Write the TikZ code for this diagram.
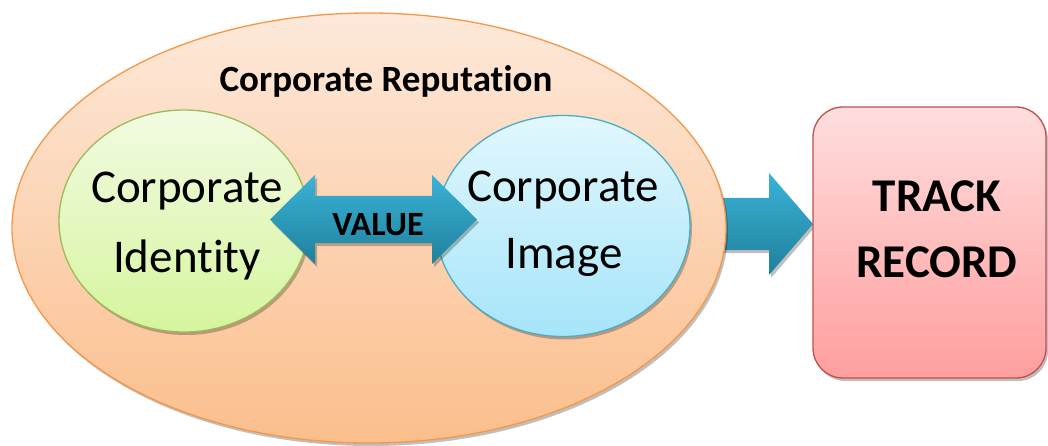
\documentclass[tikz,border=0pt]{standalone}
\usepackage{fontspec}
\setmainfont{Carlito}[Ligatures=NoCommon,RawFeature={-liga;-clig;-dlig}]
\usetikzlibrary{shapes.geometric,shadows}
\definecolor{repTop}{HTML}{FDE9DA}
\definecolor{repBot}{HTML}{FBBE8C}
\definecolor{repLine}{HTML}{F79646}
\definecolor{idTop}{HTML}{F2FBE2}
\definecolor{idBot}{HTML}{D6F59E}
\definecolor{idLine}{HTML}{9BBB59}
\definecolor{imTop}{HTML}{E2F7FD}
\definecolor{imBot}{HTML}{A6E5FA}
\definecolor{imLine}{HTML}{4BACC6}
\definecolor{arTop}{HTML}{3BB3D7}
\definecolor{arBot}{HTML}{1F809C}
\definecolor{trTop}{HTML}{FFDEDE}
\definecolor{trBot}{HTML}{FF9E9E}
\definecolor{trLine}{HTML}{C0504D}
\tikzset{
  softshadow/.style={drop shadow={shadow xshift=2pt,shadow yshift=-3pt,opacity=0.25,fill=black}},
  oval/.style={ellipse,draw,line width=1.3pt,inner sep=0pt,softshadow},
  blockarrow/.style={top color=arTop,bottom color=arBot,draw=none,softshadow},
  txt/.style={anchor=base,inner sep=0pt,text=black},
}
\begin{document}
\begin{tikzpicture}[x=1pt,y=1pt]
\useasboundingbox (0,0) rectangle (1048,-446);
% arrow from reputation to track record (behind the ellipse)
\coordinate (ra0) at (700,-224);
\coordinate (ratip) at (813,-224);
\path[blockarrow] (700,-198) -- (769,-198) -- (769,-173) -- (ratip) -- (769,-275) -- (769,-250) -- (700,-250) -- cycle;
% reputation ellipse
\node[oval,draw=repLine,top color=repTop,bottom color=repBot,minimum width=714,minimum height=430] (rep) at (369,-228) {};
\node[txt,font=\bfseries\fontsize{37}{44}\selectfont] (reptxt) at (386,-92) {Corporate Reputation};
% identity and image
\node[oval,draw=idLine,top color=idTop,bottom color=idBot,minimum width=250,minimum height=222] (ident) at (184,-221) {};
\node[oval,draw=imLine,top color=imTop,bottom color=imBot,minimum width=254,minimum height=221] (image) at (563,-226) {};
\node[txt,font=\fontsize{47}{56}\selectfont] (id1) at (187,-203) {Corporate};
\node[txt,font=\fontsize{47}{56}\selectfont] (id2) at (187,-272) {Identity};
\node[txt,font=\fontsize{47}{56}\selectfont] (im1) at (563,-202) {Corporate};
\node[txt,font=\fontsize{47}{56}\selectfont] (im2) at (564,-268) {Image};
% value double arrow
\coordinate (vl) at (270,-219.5);
\coordinate (vr) at (477,-219.5);
\path[blockarrow] (vl) -- (315,-175) -- (315,-196) -- (432,-196) -- (432,-175) -- (vr) -- (432,-264) -- (432,-243) -- (315,-243) -- (315,-264) -- cycle;
\node[txt,font=\bfseries\fontsize{34}{40}\selectfont] (val) at (378,-235) {VALUE};
% track record
\node[draw=trLine,line width=1.3pt,rounded corners=30pt,top color=trTop,bottom color=trBot,minimum width=233,minimum height=271,softshadow] (track) at (929.5,-242.5) {};
\node[txt,font=\bfseries\fontsize{47}{56}\selectfont] (tr1) at (937,-212) {TRACK};
\node[txt,font=\bfseries\fontsize{47}{56}\selectfont] (tr2) at (937,-277) {RECORD};
\end{tikzpicture}
\end{document}
